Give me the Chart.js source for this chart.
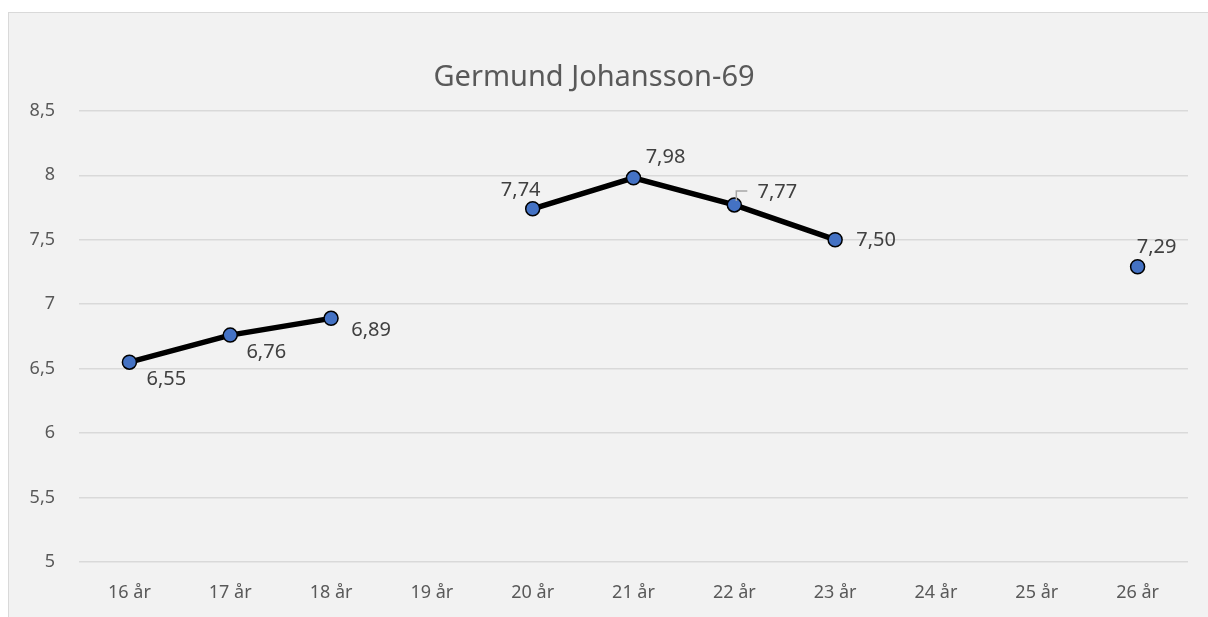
<!DOCTYPE html>
<html>
<head>
<meta charset="utf-8">
<script src="https://cdn.jsdelivr.net/npm/chart.js@4.4.1/dist/chart.umd.min.js"></script>
<style>
  html, body { margin: 0; padding: 0; background: #fff; }
  #wrap { position: absolute; left: 0; top: 0; width: 1208px; height: 617px; }
  #bg { position: absolute; left: 8px; top: 12px; width: 1210px; height: 620px;
        background: #f2f2f2; border: 1px solid #d9d9d9; }
</style>
</head>
<body>
<div id="wrap">
  <div id="bg"></div>
  <canvas id="myChart" width="1208" height="617" style="position:absolute;left:0;top:0;"></canvas>
</div>
<script>
const ages = ['16 år', '17 år', '18 år', '19 år', '20 år', '21 år', '22 år', '23 år', '24 år', '25 år', '26 år'];
const scores = [6.55, 6.76, 6.89, null, 7.74, 7.98, 7.77, 7.50, null, null, 7.29];
const yTicks = [5, 5.5, 6, 6.5, 7, 7.5, 8, 8.5];

// where each value label sits relative to its point (dx, dy of text centre)
const labelOffsets = [[37, 17], [36, 17], [40, 12], null, [-12, -18], [32, -21], [43, -13], [41, 1], null, null, [19, -19]];

function fmt(v, d) {
  return v.toFixed(d).replace('.', ',');
}

const valueLabels = {
  id: 'valueLabels',
  afterDatasetsDraw(chart) {
    const ctx = chart.ctx;
    const meta = chart.getDatasetMeta(0);
    ctx.save();
    ctx.font = '20px "Noto Sans"';
    ctx.fillStyle = '#404040';
    ctx.textAlign = 'center';
    ctx.textBaseline = 'middle';
    meta.data.forEach((pt, i) => {
      const v = scores[i];
      if (v === null) return;
      const off = labelOffsets[i];
      ctx.fillText(fmt(v, 2), pt.x + off[0], pt.y + off[1]);
      if (i === 6) {
        // leader line
        ctx.strokeStyle = '#a6a6a6';
        ctx.lineWidth = 1.5;
        ctx.beginPath();
        ctx.moveTo(pt.x + 2, pt.y - 4);
        ctx.lineTo(pt.x + 2, pt.y - 14);
        ctx.lineTo(pt.x + 13, pt.y - 14);
        ctx.stroke();
      }
    });
    ctx.restore();
  }
};

const ctx = document.getElementById('myChart').getContext('2d');
new Chart(ctx, {
  type: 'line',
  data: {
    labels: ages,
    datasets: [{
      label: 'Germund Johansson-69',
      data: scores,
      borderColor: '#000000',
      borderWidth: 5.5,
      pointRadius: 7,
      pointBackgroundColor: '#4472C4',
      pointBorderColor: '#000000',
      pointBorderWidth: 1.5,
      tension: 0,
      spanGaps: false
    }]
  },
  options: {
    responsive: false,
    animation: false,
    layout: { padding: { left: 0, right: 20, top: 0, bottom: 0 } },
    plugins: {
      legend: { display: false },
      tooltip: { enabled: false },
      title: {
        display: true,
        text: 'Germund Johansson-69',
        color: '#595959',
        font: { family: '"Noto Sans"', size: 29, weight: 'normal' },
        padding: { top: 60, bottom: 16 }
      }
    },
    scales: {
      x: {
        offset: true,
        grid: { display: false },
        border: { display: false },
        ticks: { color: '#595959', font: { family: '"Noto Sans"', size: 18 }, padding: 12 },
        afterFit(scale) { scale.height = 55; }
      },
      y: {
        min: 5,
        max: 8.5,
        afterBuildTicks(scale) { scale.ticks = yTicks.map(v => ({ value: v })); },
        grid: { color: '#d9d9d9', lineWidth: 1.5, drawTicks: false },
        border: { display: false },
        ticks: {
          color: '#595959',
          font: { family: '"Noto Sans"', size: 18 },
          padding: 24,
          callback: v => String(v).replace('.', ',')
        },
        afterFit(scale) { scale.width = 79; }
      }
    }
  },
  plugins: [valueLabels]
});
</script>
</body>
</html>
